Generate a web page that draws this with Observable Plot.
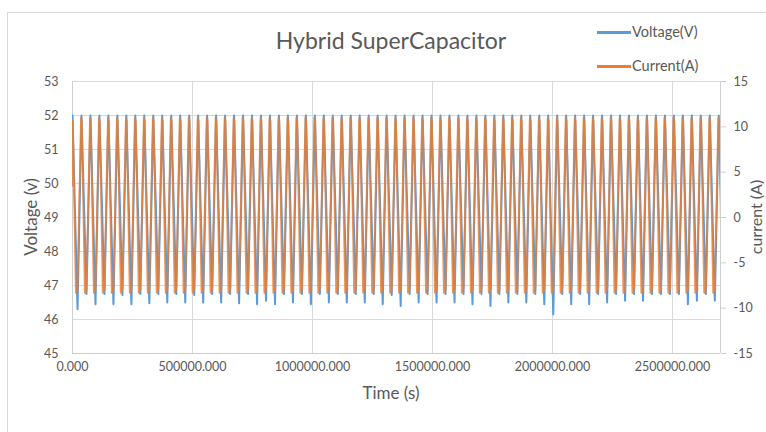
<!DOCTYPE html>
<html><head><meta charset="utf-8">
<script src="https://cdn.jsdelivr.net/npm/d3@7"></script>
<script src="https://cdn.jsdelivr.net/npm/@observablehq/plot@0.6"></script>
<style>
html,body{margin:0;padding:0;background:#fff;}
#wrap{position:relative;width:766px;height:432px;overflow:hidden;font-family:Lato,"Open Sans",sans-serif;color:#595959;background:#fff;}
#wrap svg{position:absolute;left:0;top:0;}
.t{position:absolute;white-space:nowrap;line-height:1;}
</style></head><body>
<div id="wrap">
<div style="position:absolute;left:7px;top:12px;width:800px;height:500px;border:1px solid #d9d9d9;"></div>
</div>
<script>
// Start time (s) of each voltage peak
const cycleTime = [0, 37400, 74800, 112200, 149600, 187000, 224400, 261800, 299200, 336600,
  374000, 411400, 448800, 486200, 523600, 561000, 598400, 635800, 673200, 710600,
  748000, 785400, 822800, 860200, 897600, 935000, 972400, 1009800, 1047200, 1084600,
  1122000, 1159400, 1196800, 1234200, 1271600, 1309000, 1346400, 1383800, 1421200, 1458600,
  1496000, 1533400, 1570800, 1608200, 1645600, 1683000, 1720400, 1757800, 1795200, 1832600,
  1870000, 1907400, 1944800, 1982200, 2019600, 2057000, 2094400, 2131800, 2169200, 2206600,
  2244000, 2281400, 2318800, 2356200, 2393600, 2431000, 2468400, 2505800, 2543200, 2580600,
  2618000, 2655400, 2692800];
// Voltage minimum reached in each cycle (V)
const voltageTrough = [46.30, 46.75, 46.45, 46.75, 46.45, 46.72, 46.45, 46.75, 46.48, 46.75,
  46.50, 46.75, 46.50, 46.72, 46.50, 46.75, 46.50, 46.75, 46.48, 46.75,
  46.45, 46.55, 46.45, 46.75, 46.50, 46.75, 46.45, 46.75, 46.50, 46.75,
  46.50, 46.75, 46.50, 46.75, 46.45, 46.72, 46.40, 46.75, 46.50, 46.75,
  46.50, 46.75, 46.50, 46.75, 46.45, 46.75, 46.40, 46.75, 46.50, 46.75,
  46.50, 46.75, 46.45, 46.15, 46.75, 46.45, 46.75, 46.45, 46.75, 46.50,
  46.75, 46.55, 46.75, 46.55, 46.75, 46.75, 46.75, 46.75, 46.45, 46.55,
  46.75, 46.55, 46.70];
const voltagePeak = 52.0;
const currentHigh = 11.0;
const currentLow = -8.3;
const currentLead = 3.5;
const xTicks = [0, 500000, 1000000, 1500000, 2000000, 2500000];
const voltTicks = [45, 46, 47, 48, 49, 50, 51, 52, 53];
const currentTicks = [-15, -10, -5, 0, 5, 10, 15];

// shape of one cycle (seconds after voltage peak)
const troughLag = 21000;
const voltage = [];
cycleTime.forEach((t, k) => {
  voltage.push({t, v: voltagePeak});
  voltage.push({t: t + troughLag, v: voltageTrough[k]});
});
const current = [{t: 0, a: currentLead}];
cycleTime.forEach((t, k) => {
  if (k > 0) current.push({t: t - 2000, a: currentHigh});
  current.push({t: t + 1500, a: currentHigh - 0.3});
  current.push({t: t + 14000, a: currentLow});
  current.push({t: t + 21000, a: currentLow + 0.4});
});
// secondary axis (current, -15..15) mapped onto primary (voltage, 45..53)
const toV = a => 49 + a * 8 / 30;
const toA = v => Math.round((v - 49) * 30 / 8);

const chart = Plot.plot({
  width: 766, height: 432,
  marginLeft: 72, marginRight: 46, marginTop: 81, marginBottom: 79,
  style: {fontFamily: "Lato, 'Open Sans', sans-serif", fontSize: "12.5px", color: "#595959", background: "transparent"},
  x: {domain: [0, 2700000]},
  y: {domain: [45, 53]},
  marks: [
    Plot.gridX(xTicks, {stroke: "#d9d9d9", strokeOpacity: 1}),
    Plot.gridY(voltTicks, {stroke: "#d9d9d9", strokeOpacity: 1}),
    Plot.ruleX([0, 2700000], {stroke: "#cfcfcf"}),
    Plot.ruleY([45], {stroke: "#cfcfcf"}),
    Plot.axisX(xTicks, {tickSize: 0, tickPadding: 9, tickFormat: d => d.toFixed(3), label: null, fill: "#595959"}),
    Plot.axisY(voltTicks, {anchor: "left", tickSize: 0, tickPadding: 14, label: null, fill: "#595959"}),
    Plot.axisY(currentTicks.map(toV), {anchor: "right", tickSize: 5, tickPadding: 8, tickFormat: v => String(toA(v)), label: null, stroke: "#cfcfcf", fill: "#595959"}),
    Plot.line(voltage, {x: "t", y: "v", stroke: "#5B9BD5", strokeWidth: 2, clip: true}),
    Plot.line(current, {x: "t", y: d => toV(d.a), stroke: "#ED7D31", strokeWidth: 1.8, strokeOpacity: 0.82, clip: true})
  ]
});
const wrap = document.getElementById("wrap");
wrap.appendChild(chart);

function addText(txt, x, y, size, rot, anchor) {
  const d = document.createElement("div");
  d.className = "t";
  d.textContent = txt;
  d.style.left = x + "px";
  d.style.top = y + "px";
  d.style.fontSize = size + "px";
  d.style.transform = (anchor === "start" ? "translate(0,-50%)" : "translate(-50%,-50%)") + (rot ? " rotate(" + rot + "deg)" : "");
  wrap.appendChild(d);
}
function addSwatch(color, x, y) {
  const d = document.createElement("div");
  d.style.cssText = `position:absolute;left:${x}px;top:${y}px;width:34px;height:2.5px;background:${color};`;
  wrap.appendChild(d);
}
addText("Hybrid SuperCapacitor", 391, 40, 23, 0);
addSwatch("#5B9BD5", 597, 31);
addText("Voltage(V)", 632, 32, 14.5, 0, "start");
addSwatch("#ED7D31", 597, 65);
addText("Current(A)", 632, 66, 14.5, 0, "start");
addText("Voltage (v)", 30, 217, 17, -90);
addText("current (A)", 756, 217, 16, -90);
addText("Time (s)", 391, 392, 17, 0);
</script>
</body></html>
